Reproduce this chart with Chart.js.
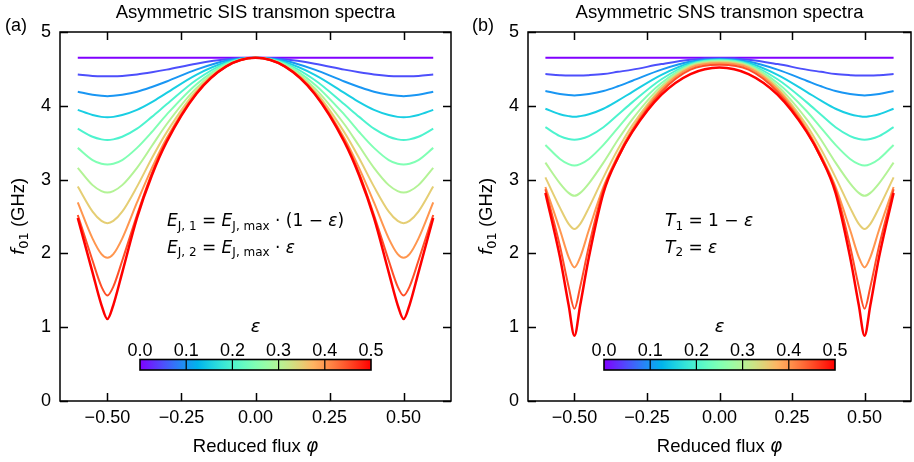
<!DOCTYPE html>
<html>
<head>
<meta charset="utf-8">
<script src="https://cdn.jsdelivr.net/npm/chart.js@4.4.1/dist/chart.umd.min.js"></script>
<style>
  body { margin: 0; background: #fff; }
  #wrap { position: relative; width: 914px; height: 462px; }
  canvas { position: absolute; top: 0; }
</style>
</head>
<body>
<div id="wrap">
  <canvas id="chartA" width="457" height="462" style="left:0"></canvas>
  <canvas id="chartB" width="457" height="462" style="left:457px"></canvas>
</div>
<script>
// reduced flux grid (denser around the dips at +-0.5)
const phi = [-0.6, -0.55, -0.52, -0.5, -0.48, -0.45, -0.4, -0.35, -0.3, -0.2, -0.1, 0,
             0.1, 0.2, 0.3, 0.35, 0.4, 0.45, 0.48, 0.5, 0.52, 0.55, 0.6];
const eps = [0, 0.05, 0.1, 0.15, 0.2, 0.25, 0.3, 0.35, 0.4, 0.45, 0.5];

// f01 (GHz), one row per eps, panel (a)
const sisF01 = [
  [4.65,4.65,4.65,4.65,4.65,4.65,4.65,4.65,4.65,4.65,4.65,4.65,4.65,4.65,4.65,4.65,4.65,4.65,4.65,4.65,4.65,4.65,4.65],
  [4.425,4.405,4.40,4.40,4.40,4.405,4.425,4.455,4.49,4.57,4.63,4.65,4.63,4.57,4.49,4.455,4.425,4.405,4.40,4.40,4.40,4.405,4.425],
  [4.19,4.15,4.135,4.13,4.135,4.15,4.19,4.255,4.33,4.49,4.61,4.65,4.61,4.49,4.33,4.255,4.19,4.15,4.135,4.13,4.135,4.15,4.19],
  [3.945,3.875,3.85,3.845,3.85,3.875,3.945,4.05,4.175,4.42,4.59,4.65,4.59,4.42,4.175,4.05,3.945,3.875,3.85,3.845,3.85,3.875,3.945],
  [3.69,3.58,3.545,3.535,3.545,3.58,3.69,3.85,4.02,4.35,4.575,4.65,4.575,4.35,4.02,3.85,3.69,3.58,3.545,3.535,3.545,3.58,3.69],
  [3.43,3.265,3.215,3.205,3.215,3.265,3.43,3.645,3.88,4.29,4.56,4.65,4.56,4.29,3.88,3.645,3.43,3.265,3.215,3.205,3.215,3.265,3.43],
  [3.16,2.925,2.845,2.825,2.845,2.925,3.16,3.455,3.75,4.24,4.545,4.65,4.545,4.24,3.75,3.455,3.16,2.925,2.845,2.825,2.845,2.925,3.16],
  [2.905,2.565,2.44,2.41,2.44,2.565,2.905,3.29,3.64,4.20,4.54,4.65,4.54,4.20,3.64,3.29,2.905,2.565,2.44,2.41,2.44,2.565,2.905],
  [2.69,2.20,1.99,1.94,1.99,2.20,2.69,3.155,3.56,4.18,4.53,4.65,4.53,4.18,3.56,3.155,2.69,2.20,1.99,1.94,1.99,2.20,2.69],
  [2.52,1.90,1.55,1.43,1.55,1.90,2.52,3.085,3.53,4.165,4.53,4.65,4.53,4.165,3.53,3.085,2.52,1.90,1.55,1.43,1.55,1.90,2.52],
  [2.48,1.74,1.30,1.11,1.30,1.74,2.48,3.055,3.51,4.16,4.53,4.65,4.53,4.16,3.51,3.055,2.48,1.74,1.30,1.11,1.30,1.74,2.48]
];

// f01 (GHz), one row per eps, panel (b)
const snsF01 = [
  [4.65,4.65,4.65,4.65,4.65,4.65,4.65,4.65,4.65,4.65,4.65,4.65,4.65,4.65,4.65,4.65,4.65,4.65,4.65,4.65,4.65,4.65,4.65],
  [4.43,4.415,4.41,4.41,4.41,4.415,4.43,4.46,4.49,4.565,4.625,4.645,4.625,4.565,4.49,4.46,4.43,4.415,4.41,4.41,4.41,4.415,4.43],
  [4.20,4.16,4.145,4.14,4.145,4.16,4.20,4.265,4.34,4.49,4.60,4.635,4.60,4.49,4.34,4.265,4.20,4.16,4.145,4.14,4.145,4.16,4.20],
  [3.96,3.885,3.86,3.85,3.86,3.885,3.96,4.07,4.19,4.42,4.58,4.625,4.58,4.42,4.19,4.07,3.96,3.885,3.86,3.85,3.86,3.885,3.96],
  [3.71,3.59,3.55,3.54,3.55,3.59,3.71,3.88,4.05,4.36,4.565,4.62,4.565,4.36,4.05,3.88,3.71,3.59,3.55,3.54,3.55,3.59,3.71],
  [3.47,3.28,3.21,3.19,3.21,3.28,3.47,3.70,3.93,4.31,4.55,4.61,4.55,4.31,3.93,3.70,3.47,3.28,3.21,3.19,3.21,3.28,3.47],
  [3.23,2.95,2.82,2.78,2.82,2.95,3.23,3.54,3.82,4.27,4.54,4.60,4.54,4.27,3.82,3.54,3.23,2.95,2.82,2.78,2.82,2.95,3.23],
  [3.03,2.62,2.40,2.33,2.40,2.62,3.03,3.41,3.74,4.24,4.53,4.59,4.53,4.24,3.74,3.41,3.03,2.62,2.40,2.33,2.40,2.62,3.03],
  [2.90,2.32,1.95,1.81,1.95,2.32,2.90,3.33,3.69,4.22,4.515,4.575,4.515,4.22,3.69,3.33,2.90,2.32,1.95,1.81,1.95,2.32,2.90],
  [2.87,2.10,1.55,1.25,1.55,2.10,2.87,3.29,3.66,4.19,4.49,4.555,4.49,4.19,3.66,3.29,2.87,2.10,1.55,1.25,1.55,2.10,2.87],
  [2.82,1.95,1.30,0.885,1.30,1.95,2.82,3.30,3.65,4.15,4.43,4.52,4.43,4.15,3.65,3.30,2.82,1.95,1.30,0.885,1.30,1.95,2.82]
];

const xTicks = [-0.5, -0.25, 0, 0.25, 0.5];
const yTicks = [0, 1, 2, 3, 4, 5];
const cbarTicks = [0, 0.1, 0.2, 0.3, 0.4, 0.5];

const SANS = '"Liberation Sans", Arial, sans-serif';
const MATH = '"DejaVu Sans", sans-serif';
const TICK = 8;

// matplotlib "rainbow" colormap
function rainbow(t) {
    let r = Math.min(1, Math.abs(2 * t - 0.5));
    let g = Math.sin(Math.PI * t);
    let b = Math.cos(Math.PI * t / 2);
    return `rgb(${Math.round(r * 255)}, ${Math.round(g * 255)}, ${Math.round(b * 255)})`;
}

function fmtTick(v, digits) {
    return v.toFixed(digits).replace("-", "\u2212");
}

// draw a row of text pieces: [text, font, dy]
function drawRuns(ctx, x, y, runs, align) {
    let total = 0;
    runs.forEach(r => { ctx.font = r[1]; total += ctx.measureText(r[0]).width; });
    let cx = align === "center" ? x - total / 2 : x;
    ctx.textAlign = "left";
    ctx.textBaseline = "alphabetic";
    runs.forEach(r => {
        ctx.font = r[1];
        ctx.fillText(r[0], cx, y + (r[2] || 0));
        cx += ctx.measureText(r[0]).width;
    });
}

function decor(p) {
    return {
        id: "decor",
        afterDraw(chart) {
            let ctx = chart.ctx;
            let a = chart.chartArea;
            let xs = chart.scales.x;
            let ys = chart.scales.y;
            let mid = (a.left + a.right) / 2;
            ctx.save();
            ctx.fillStyle = "#000";
            ctx.strokeStyle = "#000";

            // frame and inward ticks on all four sides
            ctx.lineWidth = 1.5;
            ctx.strokeRect(a.left, a.top, a.right - a.left, a.bottom - a.top);
            ctx.beginPath();
            xs.ticks.forEach(t => {
                let px = Math.round(xs.getPixelForValue(t.value)) + 0.5;
                ctx.moveTo(px, a.bottom); ctx.lineTo(px, a.bottom - TICK);
                ctx.moveTo(px, a.top); ctx.lineTo(px, a.top + TICK);
            });
            ys.ticks.forEach(t => {
                let py = Math.round(ys.getPixelForValue(t.value)) + 0.5;
                ctx.moveTo(a.left, py); ctx.lineTo(a.left + TICK, py);
                ctx.moveTo(a.right, py); ctx.lineTo(a.right - TICK, py);
            });
            ctx.stroke();

            // title and panel letter
            ctx.font = "18.5px " + SANS;
            ctx.textAlign = "center";
            ctx.fillText(p.title, mid, 18);
            ctx.font = "18px " + SANS;
            ctx.textAlign = "left";
            ctx.fillText(p.letter, p.letterX, 31);

            // axis labels
            drawRuns(ctx, mid, 451.5, [["Reduced flux ", "18.5px " + SANS], ["\u03c6", "oblique 18.5px " + MATH]], "center");
            ctx.save();
            ctx.translate(a.left - 36, (a.top + a.bottom) / 2);
            ctx.rotate(-Math.PI / 2);
            drawRuns(ctx, 0, 0, [["f", "oblique 18.5px " + MATH], ["01", "13px " + MATH, 4], [" (GHz)", "18.5px " + SANS]], "center");
            ctx.restore();

            // formula
            p.formula.forEach((line, i) => drawRuns(ctx, p.formulaX, 226 + i * 26.5, line));

            // colour bar
            let w = 231, h = 10.5, top = 359.5;
            let x0 = mid - w / 2;
            let grad = ctx.createLinearGradient(x0, 0, x0 + w, 0);
            for (let k = 0; k <= 20; k++) grad.addColorStop(k / 20, rainbow(k / 20));
            ctx.fillStyle = grad;
            ctx.fillRect(x0, top, w, h);
            ctx.lineWidth = 1.2;
            ctx.beginPath();
            cbarTicks.slice(1, -1).forEach(v => {
                let px = x0 + w * v / 0.5;
                ctx.moveTo(px, top); ctx.lineTo(px, top + h);
            });
            ctx.stroke();
            ctx.lineWidth = 1.6;
            ctx.strokeRect(x0, top, w, h);
            ctx.fillStyle = "#000";
            ctx.font = "18px " + SANS;
            ctx.textAlign = "center";
            cbarTicks.forEach(v => ctx.fillText(v.toFixed(1), x0 + w * v / 0.5, 356));
            ctx.font = "oblique 18px " + MATH;
            ctx.fillText("\u03b5", mid, 331.5);
            ctx.restore();
        }
    };
}

function makeChart(id, rows, p) {
    let datasets = eps.map((e, i) => ({
        data: phi.map((x, j) => ({ x: x, y: rows[i][j] })),
        borderColor: rainbow(e / 0.5),
        borderWidth: i === eps.length - 1 ? 2.5 : 2,
        pointRadius: 0,
        fill: false,
        cubicInterpolationMode: "monotone",
        order: eps.length - 1 - i
    }));

    new Chart(document.getElementById(id), {
        type: "line",
        data: { datasets: datasets },
        options: {
            responsive: false,
            animation: false,
            events: [],
            layout: { padding: { top: 32, right: p.padRight, bottom: 0, left: 0 } },
            plugins: { legend: { display: false }, tooltip: { enabled: false } },
            scales: {
                x: {
                    type: "linear",
                    min: -0.66,
                    max: 0.66,
                    afterBuildTicks: s => { s.ticks = xTicks.map(v => ({ value: v })); },
                    afterFit: s => { s.height = 61; },
                    grid: { display: false, drawTicks: false },
                    border: { display: false },
                    ticks: {
                        padding: 6,
                        color: "#000",
                        font: { family: SANS, size: 18 },
                        callback: v => fmtTick(v, 2)
                    }
                },
                y: {
                    type: "linear",
                    min: 0,
                    max: 5,
                    afterBuildTicks: s => { s.ticks = yTicks.map(v => ({ value: v })); },
                    afterFit: s => { s.width = p.yWidth; },
                    grid: { display: false, drawTicks: false },
                    border: { display: false },
                    ticks: {
                        padding: 9,
                        color: "#000",
                        font: { family: SANS, size: 18 },
                        callback: v => String(v)
                    }
                }
            }
        },
        plugins: [decor(p)]
    });
}

const it17 = "oblique 17px " + MATH;
const rm17 = "17px " + MATH;
const rm12 = "12px " + MATH;

makeChart("chartA", sisF01, {
    title: "Asymmetric SIS transmon spectra",
    letter: "(a)",
    letterX: 5,
    yWidth: 60,
    padRight: 6,
    formulaX: 167,
    formula: [
        [["E", it17], ["J, 1", rm12, 3.5], [" = ", rm17], ["E", it17], ["J, max", rm12, 3.5], [" \u00b7 (1 \u2212 ", rm17], ["\u03b5", it17], [")", rm17]],
        [["E", it17], ["J, 2", rm12, 3.5], [" = ", rm17], ["E", it17], ["J, max", rm12, 3.5], [" \u00b7 ", rm17], ["\u03b5", it17]]
    ]
});

makeChart("chartB", snsF01, {
    title: "Asymmetric SNS transmon spectra",
    letter: "(b)",
    letterX: 15,
    yWidth: 71,
    padRight: 3,
    formulaX: 208,
    formula: [
        [["T", it17], ["1", rm12, 3.5], [" = 1 \u2212 ", rm17], ["\u03b5", it17]],
        [["T", it17], ["2", rm12, 3.5], [" = ", rm17], ["\u03b5", it17]]
    ]
});
</script>
</body>
</html>
